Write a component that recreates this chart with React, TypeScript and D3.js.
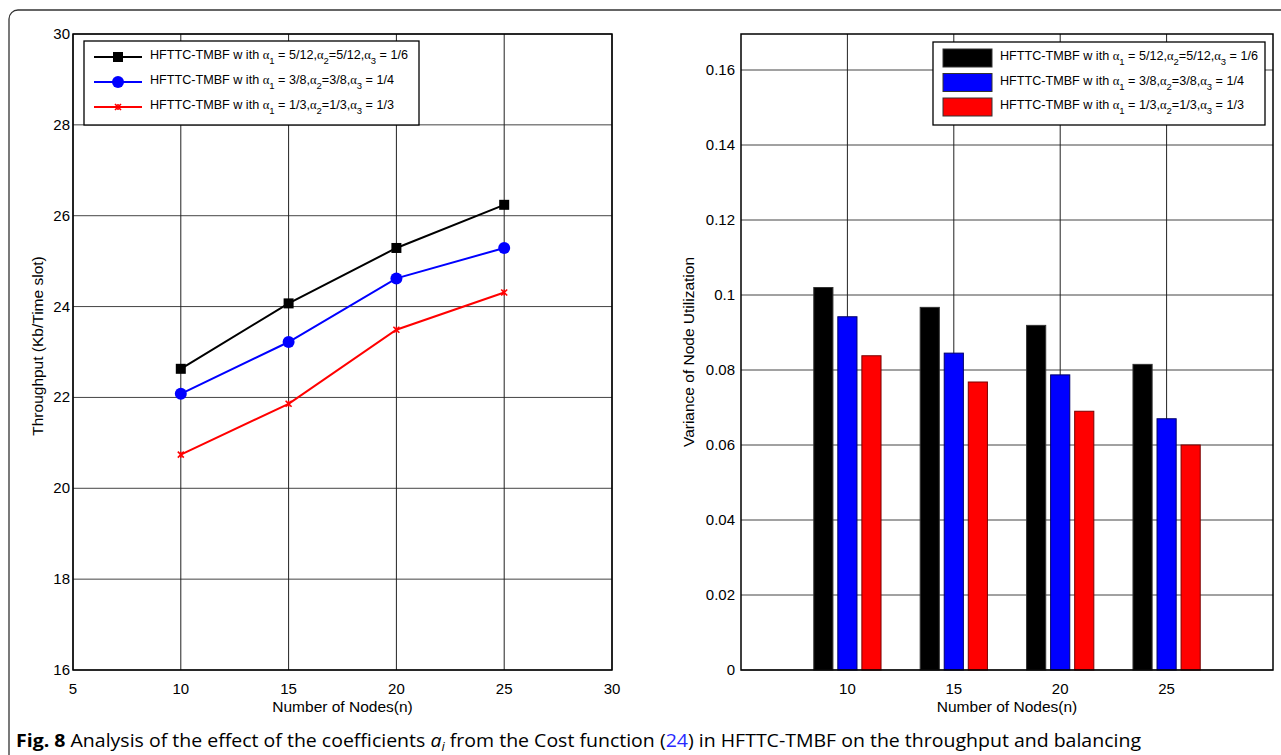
import React from "react";
import * as d3 from "d3";

// node counts on the x axis
const nodes = [10, 15, 20, 25];

// throughput (Kb/time slot), one list per coefficient setting
const throughputA = [22.63, 24.07, 25.29, 26.24];
const throughputB = [22.08, 23.22, 24.62, 25.29];
const throughputC = [20.74, 21.86, 23.49, 24.31];

// variance of node utilization
const varianceA = [0.102, 0.0967, 0.0919, 0.0815];
const varianceB = [0.0942, 0.0845, 0.0787, 0.067];
const varianceC = [0.0838, 0.0768, 0.069, 0.06];

const leftYTicks = [16, 18, 20, 22, 24, 26, 28, 30];
const leftXTicks = [5, 10, 15, 20, 25, 30];
const rightYTicks = [0, 0.02, 0.04, 0.06, 0.08, 0.1, 0.12, 0.14, 0.16];

const legendLabels = [
  { a1: "5/12", a2: "5/12", a3: "1/6" },
  { a1: "3/8", a2: "3/8", a3: "1/4" },
  { a1: "1/3", a2: "1/3", a3: "1/3" },
];

const colors = ["#000000", "#0000ff", "#ff0000"];
const FONT = "'Liberation Sans', Arial, sans-serif";

const LegendText = ({ x, y, lab }) => (
  <text x={x} y={y} fontSize="12.6" fontFamily={FONT} fill="#000">
    HFTTC-TMBF w ith <tspan fontFamily="'Liberation Serif', serif">α</tspan>
    <tspan dy="5" fontSize="9.5">1</tspan>
    <tspan dy="-5"> = {lab.a1},</tspan>
    <tspan fontFamily="'Liberation Serif', serif">α</tspan>
    <tspan dy="5" fontSize="9.5">2</tspan>
    <tspan dy="-5">={lab.a2},</tspan>
    <tspan fontFamily="'Liberation Serif', serif">α</tspan>
    <tspan dy="5" fontSize="9.5">3</tspan>
    <tspan dy="-5"> = {lab.a3}</tspan>
  </text>
);

const Marker = ({ kind, x, y, color }) => {
  if (kind === 0) return <rect x={x - 5} y={y - 5} width={10} height={10} fill={color} />;
  if (kind === 1) return <circle cx={x} cy={y} r={6} fill={color} />;
  return (
    <g stroke={color} strokeWidth={1.6}>
      <line x1={x - 3} y1={y - 3} x2={x + 3} y2={y + 3} />
      <line x1={x - 3} y1={y + 3} x2={x + 3} y2={y - 3} />
      <line x1={x} y1={y - 3} x2={x} y2={y + 3} />
    </g>
  );
};

const LineChart = () => {
  const left = 73, right = 612, top = 34, bottom = 670;
  const x = d3.scaleLinear().domain([5, 30]).range([left, right]);
  const y = d3.scaleLinear().domain([16, 30]).range([bottom, top]);
  const series = [throughputA, throughputB, throughputC];
  const line = d3
    .line<number>()
    .x((d, i) => x(nodes[i]))
    .y((d) => y(d));

  return (
    <g>
      <rect x={left} y={top} width={right - left} height={bottom - top} fill="#fff" />
      {leftYTicks.map((t) => (
        <g key={t}>
          <line x1={left} x2={right} y1={y(t)} y2={y(t)} stroke="#444" strokeWidth={1} />
          <text x={left - 3} y={y(t) + 5} textAnchor="end" fontSize="15" fontFamily={FONT}>
            {t}
          </text>
        </g>
      ))}
      {leftXTicks.map((t) => (
        <g key={t}>
          <line x1={x(t)} x2={x(t)} y1={top} y2={bottom} stroke="#222" strokeWidth={1} />
          <text x={x(t)} y={bottom + 24} textAnchor="middle" fontSize="15" fontFamily={FONT}>
            {t}
          </text>
        </g>
      ))}
      <rect x={left} y={top} width={right - left} height={bottom - top} fill="none" stroke="#000" strokeWidth={1.5} />
      {series.map((s, k) => (
        <g key={k}>
          <path d={line(s)} fill="none" stroke={colors[k]} strokeWidth={2} />
          {s.map((v, i) => (
            <Marker key={i} kind={k} x={x(nodes[i])} y={y(v)} color={colors[k]} />
          ))}
        </g>
      ))}
      <g>
        <rect x={84} y={41} width={335} height={84} fill="#fff" stroke="#000" strokeWidth={1.3} />
        {legendLabels.map((lab, k) => {
          const ly = 57 + k * 25;
          return (
            <g key={k}>
              <line x1={94} x2={142} y1={ly} y2={ly} stroke={colors[k]} strokeWidth={2} />
              <Marker kind={k} x={118} y={ly} color={colors[k]} />
              <LegendText x={150} y={ly + 2} lab={lab} />
            </g>
          );
        })}
      </g>
      <text x={(left + right) / 2 + 0} y={712} textAnchor="middle" fontSize="15.5" fontFamily={FONT}>
        Number of Nodes(n)
      </text>
      <text
        transform={`translate(${43},${(top + bottom) / 2 - 6}) rotate(-90)`}
        textAnchor="middle"
        fontSize="15.5"
        fontFamily={FONT}
      >
        Throughput (Kb/Time slot)
      </text>
    </g>
  );
};

const BarChart = () => {
  const left = 741, right = 1273, top = 34, bottom = 670;
  const x = d3.scaleLinear().domain([5, 30]).range([left, right]);
  const y = d3.scaleLinear().domain([0, 0.16]).range([bottom, 70]);
  const series = [varianceA, varianceB, varianceC];
  const pitch = 1.13; // spacing between bars in a group, in node units
  const bw = x(0.9) - x(0);

  return (
    <g>
      <rect x={left} y={top} width={right - left} height={bottom - top} fill="#fff" />
      {rightYTicks.map((t) => (
        <g key={t}>
          <line x1={left} x2={right} y1={y(t)} y2={y(t)} stroke="#444" strokeWidth={1} />
          <text x={left - 6} y={y(t) + 5} textAnchor="end" fontSize="15" fontFamily={FONT}>
            {t}
          </text>
        </g>
      ))}
      {nodes.map((t) => (
        <g key={t}>
          <line x1={x(t)} x2={x(t)} y1={top} y2={bottom} stroke="#222" strokeWidth={1} />
          <text x={x(t)} y={bottom + 24} textAnchor="middle" fontSize="15" fontFamily={FONT}>
            {t}
          </text>
        </g>
      ))}
      {series.map((s, k) =>
        s.map((v, i) => (
          <rect
            key={`${k}-${i}`}
            x={x(nodes[i] + (k - 1) * pitch) - bw / 2}
            y={y(v)}
            width={bw}
            height={y(0) - y(v)}
            fill={colors[k]}
            stroke={k === 0 ? "#333" : k === 1 ? "#00006a" : "#7a0000"}
            strokeWidth={1}
          />
        ))
      )}
      <rect x={left} y={top} width={right - left} height={bottom - top} fill="none" stroke="#000" strokeWidth={1.5} />
      <g>
        <rect x={933} y={42} width={332} height={83} fill="#fff" stroke="#000" strokeWidth={1.3} />
        {legendLabels.map((lab, k) => {
          const ly = 58 + k * 24.5;
          return (
            <g key={k}>
              <rect x={943} y={ly - 9} width={49} height={18} fill={colors[k]} stroke="#333" strokeWidth={1} />
              <LegendText x={1000} y={ly + 2} lab={lab} />
            </g>
          );
        })}
      </g>
      <text x={(left + right) / 2} y={712} textAnchor="middle" fontSize="15.5" fontFamily={FONT}>
        Number of Nodes(n)
      </text>
      <text
        transform={`translate(${694},${(top + bottom) / 2}) rotate(-90)`}
        textAnchor="middle"
        fontSize="15.5"
        fontFamily={FONT}
      >
        Variance of Node Utilization
      </text>
    </g>
  );
};

const App = () => (
  <svg
    width={1281}
    height={755}
    style={{ position: "absolute", left: 0, top: 0, background: "#fff" }}
  >
    <rect x={9} y={10} width={1300} height={780} rx={9} fill="#fff" stroke="#333" strokeWidth={1.3} />
    <LineChart />
    <BarChart />
    <text x={16} y={747} fontSize="18" fontFamily="'Open Sans', 'Noto Sans', sans-serif" textLength={1125} lengthAdjust="spacingAndGlyphs">
      <tspan fontWeight="bold">Fig. 8</tspan> Analysis of the effect of the coefficients{" "}
      <tspan fontStyle="italic">a</tspan>
      <tspan fontStyle="italic" fontSize="12" dy="4">i</tspan>
      <tspan dy="-4"> from the Cost function (</tspan>
      <tspan fill="#2a2aff">24</tspan>) in HFTTC-TMBF on the throughput and balancing
    </text>
  </svg>
);

export default App;
